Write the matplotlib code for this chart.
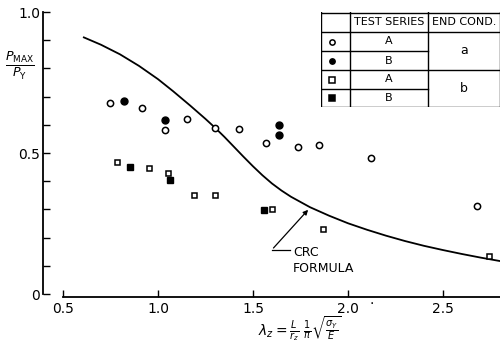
import matplotlib.pyplot as plt
import numpy as np

# test series A / B, end condition a (circles) and b (squares)
a_open_x = [0.746, 0.916, 1.035, 1.153, 1.30, 1.426, 1.567, 1.735, 1.847, 2.119, 2.677]
a_open_y = [0.676, 0.660, 0.582, 0.622, 0.590, 0.585, 0.534, 0.520, 0.530, 0.482, 0.311]
a_fill_x = [0.823, 1.037, 1.637, 1.637]
a_fill_y = [0.684, 0.617, 0.600, 0.565]
b_open_x = [0.783, 0.953, 1.051, 1.191, 1.30, 1.602, 1.870, 2.744]
b_open_y = [0.467, 0.448, 0.430, 0.351, 0.351, 0.300, 0.229, 0.135]
b_fill_x = [0.851, 1.063, 1.558]
b_fill_y = [0.449, 0.404, 0.298]

# CRC formula curve
crc_x = [0.61, 0.70, 0.80, 0.90, 1.00, 1.08, 1.17, 1.25, 1.30, 1.35, 1.40, 1.45, 1.50,
         1.55, 1.60, 1.65, 1.70, 1.80, 1.90, 2.00, 2.10, 2.20, 2.30, 2.40, 2.50, 2.60, 2.70, 2.80]
crc_y = [0.910, 0.884, 0.850, 0.809, 0.762, 0.719, 0.668, 0.621, 0.590, 0.557, 0.522, 0.487, 0.453,
         0.421, 0.392, 0.367, 0.345, 0.308, 0.278, 0.251, 0.228, 0.207, 0.188, 0.171, 0.156, 0.142,
         0.129, 0.117]

xticks = [0.5, 1.0, 1.5, 2.0, 2.5]
xticklabels = ['0.5', '1.0', '1.5', '2.0', '2.5']

fig = plt.figure(figsize=(5, 3.48), dpi=100)
ax = fig.add_axes([0.086, 0.155, 0.914, 0.8105])

ax.plot(crc_x, crc_y, color='black', lw=1.3)
ax.plot(a_open_x, a_open_y, 'o', ms=4.5, mfc='white', mec='black', mew=1.1, ls='none')
ax.plot(a_fill_x, a_fill_y, 'o', ms=5, mfc='black', mec='black', ls='none')
ax.plot(b_open_x, b_open_y, 's', ms=3.6, mfc='white', mec='black', mew=1.1, ls='none')
ax.plot(b_fill_x, b_fill_y, 's', ms=4, mfc='black', mec='black', ls='none')

# leader to the curve
ax.plot([1.695, 1.598], [0.156, 0.156], color='black', lw=0.9)
ax.annotate('', xy=(1.80, 0.306), xytext=(1.598, 0.156),
            arrowprops=dict(arrowstyle='-|>', color='black', lw=0.9, mutation_scale=7))
ax.text(1.71, 0.148, 'CRC', fontsize=9, va='center', ha='left')
ax.text(1.71, 0.090, 'FORMULA', fontsize=9, va='center', ha='left')

ax.set_xlim(0.395, 2.80)
ax.set_ylim(0, 1.0)
for s in ['top', 'right']:
    ax.spines[s].set_visible(False)
ax.spines['bottom'].set_bounds(0.5, 2.80)
ax.spines['bottom'].set_position(('outward', 2))
ax.spines['left'].set_bounds(0, 1.0)
ax.spines['left'].set_linewidth(1.3)
ax.spines['bottom'].set_linewidth(1.3)

ax.set_xticks(xticks)
ax.set_xticklabels(xticklabels)
ax.set_yticks([0, 0.5, 1.0])
ax.set_yticklabels(['0', '0.5', '1.0'])
ax.set_yticks(np.arange(0.1, 1.0, 0.1), minor=True)
ax.tick_params(axis='both', which='both', direction='in', length=5, width=1, labelsize=10)
ax.tick_params(axis='y', pad=2)
ax.tick_params(axis='x', pad=4)

fig.text(0.5 + 0.244, 0.125, '.', fontsize=10, ha='center')

fig.text(0.04, 0.81, r'$\frac{P_{\mathrm{MAX}}}{P_{\mathrm{Y}}}$', fontsize=13, ha='center', va='center')
fig.text(0.6, 0.055, r'$\lambda_z = \frac{L}{r_z}\ \frac{1}{\pi}\sqrt{\frac{\sigma_Y}{E}}$',
         fontsize=10, ha='center', va='center')

# legend table drawn in pixel units
tab = fig.add_axes([321 / 500, (348 - 107) / 348, 179 / 500, 95 / 348])
tab.set_xlim(0, 179)
tab.set_ylim(95, 0)
tab.axis('off')
lw = 1.0
rows = [0, 20, 39, 58, 77, 95]
cols = [0, 29, 107, 178.5]
tab.plot([0, 178.5], [0.5, 0.5], color='black', lw=lw)
tab.plot([0, 178.5], [94.5, 94.5], color='black', lw=lw)
tab.plot([0, 178.5], [20, 20], color='black', lw=lw)
tab.plot([0, 107], [39, 39], color='black', lw=lw)
tab.plot([0, 178.5], [58, 58], color='black', lw=lw)
tab.plot([0, 107], [77, 77], color='black', lw=lw)
for c in cols:
    tab.plot([c, c], [0, 95], color='black', lw=lw)
tab.text(68, 10, 'TEST SERIES', fontsize=8, ha='center', va='center')
tab.text(143, 10, 'END COND.', fontsize=8, ha='center', va='center')
series = ['A', 'B', 'A', 'B']
marks = [('o', 'white'), ('o', 'black'), ('s', 'white'), ('s', 'black')]
for i in range(4):
    yc = (rows[i + 1] + rows[i + 2]) / 2
    tab.text(68, yc, series[i], fontsize=8, ha='center', va='center')
    m, fc = marks[i]
    tab.plot([11], [yc], m, ms=3.8, mfc=fc, mec='black', mew=1.1)
tab.text(143, (20 + 58) / 2, 'a', fontsize=9, ha='center', va='center')
tab.text(143, (58 + 95) / 2, 'b', fontsize=9, ha='center', va='center')

fig.savefig('out.png', dpi=100)
